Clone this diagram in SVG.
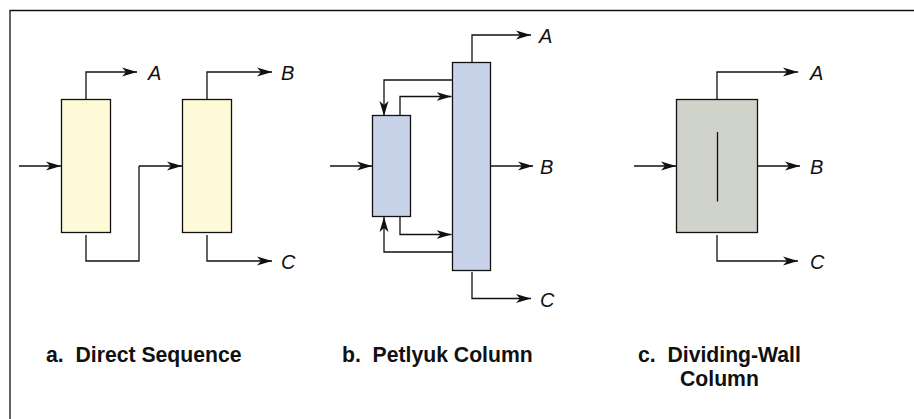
<svg xmlns="http://www.w3.org/2000/svg" width="914" height="419" viewBox="0 0 914 419">
<style>
.frame{fill:none;stroke:#111;stroke-width:1.300}
.col{stroke:#111;stroke-width:1.300}
.y{fill:#fef9d7}.b{fill:#c8d3ea}.g{fill:#d0d3c9}
.c{fill:none;stroke:#111;stroke-width:1.300}
.l{font-family:"Liberation Sans",Arial,sans-serif;font-size:20px;font-style:italic;fill:#111}
.t{font-family:"Liberation Sans",Arial,sans-serif;font-size:21.200px;font-weight:bold;fill:#111}
</style>
<defs>
<marker id="a" markerUnits="userSpaceOnUse" markerWidth="16" markerHeight="12" refX="15" refY="6" orient="auto"><path d="M0,1.500 L15,6 L0,10.500 L4,6 Z" fill="#111"/></marker>
</defs>
<path class="frame" d="M10,419V10.500H914"/>
<g id="connectors">
<path class="c" marker-end="url(#a)" d="M19,166H61"/>
<path class="c" marker-end="url(#a)" d="M86,99V72H137"/>
<path class="c" d="M86,235V261H139V166" />
<path class="c" marker-end="url(#a)" d="M139,166H182"/>
<path class="c" marker-end="url(#a)" d="M207,99V72H272"/>
<path class="c" marker-end="url(#a)" d="M207,235V261H272"/>
<path class="c" marker-end="url(#a)" d="M330,166H372"/>
<path class="c" marker-end="url(#a)" d="M472,62V35H531"/>
<path class="c" marker-end="url(#a)" d="M491,166H533"/>
<path class="c" marker-end="url(#a)" d="M472,272V298.500H531"/>
<path class="c" marker-end="url(#a)" d="M452,80H384V116"/>
<path class="c" marker-end="url(#a)" d="M400,116V96.500H451.500"/>
<path class="c" marker-end="url(#a)" d="M400,217V234.500H451.500"/>
<path class="c" marker-end="url(#a)" d="M452,252H384V217"/>
<path class="c" marker-end="url(#a)" d="M634,166H676"/>
<path class="c" marker-end="url(#a)" d="M717,99V72H798"/>
<path class="c" marker-end="url(#a)" d="M758,166H800"/>
<path class="c" marker-end="url(#a)" d="M717,235V261H798"/>
</g>
<g id="column-a1"><rect class="col y" x="61.500" y="99.500" width="49" height="133"/></g>
<g id="column-a2"><rect class="col y" x="182.500" y="99.500" width="49" height="133"/></g>
<g id="column-b1"><rect class="col b" x="372.500" y="115.500" width="38" height="101"/></g>
<g id="column-b2"><rect class="col b" x="452.500" y="62.500" width="38" height="208"/></g>
<g id="column-c"><rect class="col g" x="676.500" y="99.500" width="81" height="133"/><path class="c" d="M717.500,132V201.500"/></g>
<g id="labels">
<text class="l" x="148" y="80">A</text><text class="l" x="281" y="80">B</text><text class="l" x="281" y="269">C</text>
<text class="l" x="539" y="43">A</text><text class="l" x="540" y="174">B</text><text class="l" x="540" y="307">C</text>
<text class="l" x="810" y="80">A</text><text class="l" x="810" y="174">B</text><text class="l" x="810" y="269">C</text>
<text class="t" x="46" y="362" xml:space="preserve">a.  Direct Sequence</text>
<text class="t" x="342" y="362" xml:space="preserve">b.  Petlyuk Column</text>
<text class="t" x="638" y="362" xml:space="preserve">c.  Dividing-Wall</text>
<text class="t" x="680" y="386">Column</text>
</g>
</svg>
